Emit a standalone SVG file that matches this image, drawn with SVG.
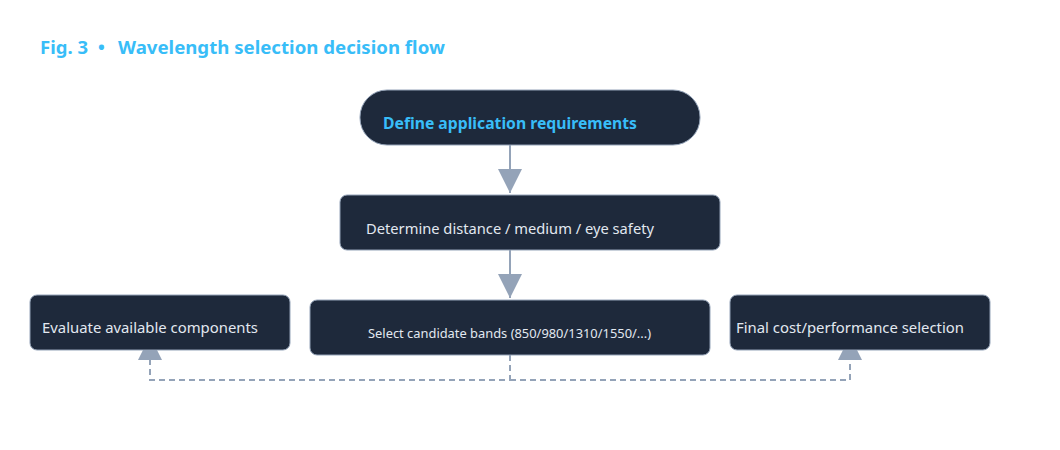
<svg xmlns="http://www.w3.org/2000/svg" width="1060" height="450" viewBox="0 0 1060 450">
  <style>
    .node { fill: #1e293b; stroke: #94a3b8; stroke-width: 1; }
    .lbl { font-family: "Noto Sans", "Open Sans", sans-serif; font-size: 14.5px; fill: #e2e8f0; }
    .lbl-b { font-family: "Noto Sans", "Open Sans", sans-serif; font-size: 15.5px; font-weight: bold; fill: #38bdf8; }
    .title { font-family: "Noto Sans", "Open Sans", sans-serif; font-size: 18px; font-weight: bold; fill: #38bdf8; }
    .conn { fill: none; stroke: #94a3b8; stroke-width: 2; }
    .dash { stroke-dasharray: 6 4; }
  </style>
  <defs>
    <marker id="arr" viewBox="0 0 24 24" refX="24" refY="12" markerWidth="24" markerHeight="24" markerUnits="userSpaceOnUse" orient="auto">
      <path d="M0,0 L24,12 L0,24 Z" fill="#94a3b8"/>
    </marker>
  </defs>
  <rect width="1060" height="450" fill="#ffffff"/>
  <text class="title" y="54"><tspan x="40" textLength="48" lengthAdjust="spacingAndGlyphs">Fig. 3</tspan><tspan x="98">•</tspan><tspan x="118" textLength="327" lengthAdjust="spacingAndGlyphs">Wavelength selection decision flow</tspan></text>

  <g id="connectors">
    <path class="conn" d="M510,145 L510,193" marker-end="url(#arr)"/>
    <path class="conn" d="M510,250 L510,298" marker-end="url(#arr)"/>
    <path class="conn dash" d="M510,355 L510,380 L150,380 L150,336" marker-end="url(#arr)"/>
    <path class="conn dash" d="M510,380 L850,380 L850,336" marker-end="url(#arr)"/>
  </g>

  <g id="node-define">
    <rect class="node" x="360" y="90" width="340" height="55" rx="27"/>
    <text class="lbl-b" x="383" y="129" textLength="254" lengthAdjust="spacingAndGlyphs">Define application requirements</text>
  </g>
  <g id="node-determine">
    <rect class="node" x="340" y="195" width="380" height="55" rx="7"/>
    <text class="lbl" x="366" y="234" textLength="288" lengthAdjust="spacingAndGlyphs">Determine distance / medium / eye safety</text>
  </g>
  <g id="node-select">
    <rect class="node" x="310" y="300" width="400" height="55" rx="7"/>
    <text class="lbl" x="368" y="338" style="font-size:13px" textLength="283" lengthAdjust="spacingAndGlyphs">Select candidate bands (850/980/1310/1550/...)</text>
  </g>
  <g id="node-evaluate">
    <rect class="node" x="30" y="295" width="260" height="55" rx="7"/>
    <text class="lbl" x="42" y="333" textLength="216" lengthAdjust="spacingAndGlyphs">Evaluate available components</text>
  </g>
  <g id="node-final">
    <rect class="node" x="730" y="295" width="260" height="55" rx="7"/>
    <text class="lbl" x="736" y="333" textLength="228" lengthAdjust="spacingAndGlyphs">Final cost/performance selection</text>
  </g>
</svg>
